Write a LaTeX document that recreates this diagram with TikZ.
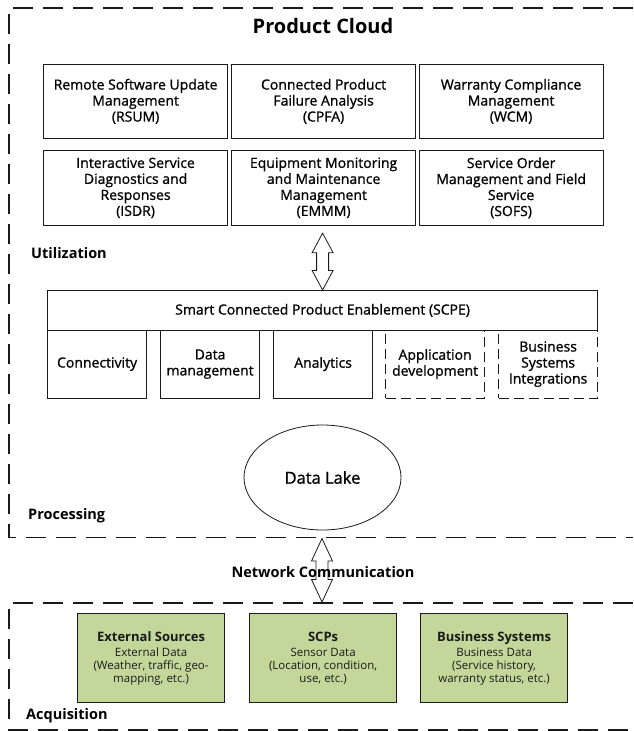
\documentclass[tikz,border=0pt]{standalone}
\usepackage{fontspec}
\setmainfont{Open Sans}
\newfontfamily\heavyfont{Open Sans}[FakeBold=1.0]
\usetikzlibrary{calc,shapes.geometric}

\definecolor{leaf}{HTML}{C4D79B}
\definecolor{ink}{HTML}{1A1A1A}

\newcommand\bxfont{\heavyfont\fontsize{14}{16}\selectfont}
\newcommand\srchead[1]{{\fontsize{13}{15}\selectfont\bfseries #1}}

% hollow double-headed arrow between two points on one vertical line
% #1 upper tip, #2 lower tip, #3 head length
\newcommand\dblarr[3]{%
  \draw[darrow] let \p1=(#1), \p2=(#2) in
    (\x1,\y1) -- (\x1+10.5pt,\y1-#3) -- (\x1+6pt,\y1-#3) -- (\x1+6pt,\y2+#3)
    -- (\x1+10.5pt,\y2+#3) -- (\x1,\y2) -- (\x1-10.5pt,\y2+#3) -- (\x1-6pt,\y2+#3)
    -- (\x1-6pt,\y1-#3) -- (\x1-10.5pt,\y1-#3) -- cycle;}

\tikzset{
  frame/.style={draw=ink, line width=1.6pt, dash pattern=on 20pt off 10pt},
  appbox/.style={draw=ink, line width=1.2pt, anchor=north west, minimum width=184pt,
    minimum height=74.5pt, inner sep=0pt, align=center, font=\bxfont},
  cellbox/.style={draw=ink, line width=1.2pt, anchor=north west, minimum width=99pt,
    minimum height=68pt, inner sep=0pt, align=center, font=\bxfont},
  dashcell/.style={cellbox, dash pattern=on 10pt off 5pt},
  srcbox/.style={draw=ink, line width=1.2pt, fill=leaf, anchor=north west,
    minimum width=147pt, minimum height=89pt, inner sep=0pt, align=center,
    text=ink, font=\fontsize{11.5}{13}\selectfont},
  layer/.style={anchor=west, font=\fontsize{14.5}{16}\selectfont\bfseries, inner sep=0pt},
  darrow/.style={draw=ink, fill=white, line width=0.8pt, line join=miter},
}

\begin{document}
\begin{tikzpicture}[x=1pt, y=-1pt]
\useasboundingbox (0,0) rectangle (633,731);
\fill[white] (0,0) rectangle (633,731);

% cloud and acquisition areas, open to the right
\draw[frame] (633,8) -- (9,8) -- (9,537.5) -- (633,537.5);
\draw[frame] (633,603) -- (9,603) -- (9,730) -- (633,730);

\node[font=\fontsize{20}{23}\selectfont\bfseries] (title) at (323,26) {Product Cloud};

% applications
\node[appbox] (rsum) at (43,63.5)   {Remote Software Update\\Management\\(RSUM)};
\node[appbox] (cpfa) at (231,63.5)  {Connected Product\\Failure Analysis\\(CPFA)};
\node[appbox] (wcm)  at (418.5,63.5){Warranty Compliance\\Management\\(WCM)};
\node[appbox] (isdr) at (43,150)    {Interactive Service\\Diagnostics and\\Responses\\(ISDR)};
\node[appbox] (emmm) at (231,150)   {Equipment Monitoring\\and Maintenance\\Management\\(EMMM)};
\node[appbox] (sofs) at (418.5,150) {Service Order\\Management and Field\\Service\\(SOFS)};

\node[layer] (util) at (31,253) {Utilization};

% enablement platform
\node[dashcell] (appdev) at (385,329.5) {Application\\development};
\node[dashcell] (bsi)    at (498,329.5) {Business\\Systems\\Integrations};
\node[cellbox] (conn) at (47,329.5)  {Connectivity};
\node[cellbox] (dm)   at (160,329.5) {Data\\management};
\node[cellbox] (ana)  at (273,329.5) {Analytics};
\node[draw=ink, line width=1.2pt, anchor=north west, minimum width=550pt,
      minimum height=39.5pt, inner sep=0pt, font=\bxfont] (scpe) at (47,290)
      {Smart Connected Product Enablement (SCPE)};

\node[draw=ink, line width=0.8pt, ellipse, minimum width=157pt, minimum height=105pt,
      inner sep=0pt, font=\heavyfont\fontsize{16.5}{18}\selectfont] (lake) at (322.5,477.5) {Data Lake};

\node[layer] (proc) at (28,516) {Processing};

% links between the layers
\coordinate (uptip) at ($(scpe.north |- emmm.south)+(0,7.5)$);
\dblarr{uptip}{scpe.north}{19.5pt}

\coordinate (nettop) at (322,538.5);
\coordinate (netbot) at (322,602);
\dblarr{nettop}{netbot}{22.5pt}
\node[layer, anchor=center] (net) at (323,572) {Network Communication};

% data sources
\node[srcbox] (ext) at (77,613)
  {\srchead{External Sources}\\[2pt]External Data\\(Weather, traffic, geo-\\mapping, etc.)};
\node[srcbox] (scp) at (249,613)
  {\srchead{SCPs}\\[2pt]Sensor Data\\(Location, condition,\\use, etc.)};
\node[srcbox] (bus) at (420,613)
  {\srchead{Business Systems}\\[2pt]Business Data\\(Service history,\\warranty status, etc.)};

\node[layer] (acq) at (26,716) {Acquisition};
\end{tikzpicture}
\end{document}
